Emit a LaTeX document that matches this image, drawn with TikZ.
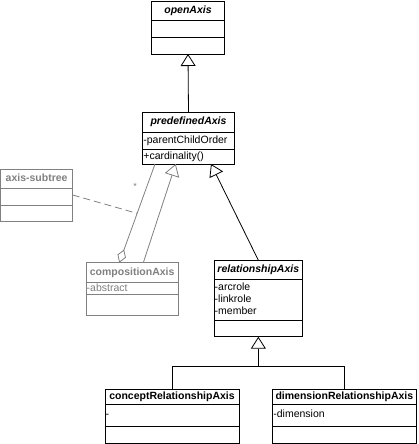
\documentclass[tikz,border=0pt]{standalone}
\usepackage{fontspec}
\setmainfont{Liberation Sans}
\usetikzlibrary{arrows.meta,calc}
\definecolor{umlgray}{RGB}{128,128,128}
\tikzset{
  box/.style={draw, line width=0.8pt, anchor=north west, inner sep=0pt, outer sep=0pt},
  sep/.style={line width=0.8pt},
  txt/.style={inner sep=0pt, font=\fontsize{10.5}{12}\selectfont, text height=7.6pt, text depth=2.2pt},
  title/.style={txt, font=\fontsize{10.5}{12}\selectfont\bfseries},
  atitle/.style={txt, font=\fontsize{10.5}{12}\selectfont\bfseries\itshape},
  attr/.style={txt, anchor=west},
  gen/.style={line width=0.8pt, -{Triangle[open, width=15pt, length=12pt, fill=white]}},
  agg/.style={line width=0.8pt, -{Diamond[open, width=9pt, length=14pt, fill=white]}},
  faint/.style={umlgray, draw=umlgray},
}
\begin{document}
\begin{tikzpicture}[x=1pt, y=-1pt]
\useasboundingbox (0,0) rectangle (419,444);
% openAxis
\node[box, minimum width=72.6pt, minimum height=53pt] (open) at (151.7,1) {};
\draw[sep] (open.west |- 0,20) -- (open.east |- 0,20);
\draw[sep] (open.west |- 0,37) -- (open.east |- 0,37);
\node[atitle] (openT) at (188,10.5) {openAxis};
% predefinedAxis
\node[box, minimum width=91.6pt, minimum height=52pt] (predef) at (142.7,112) {};
\draw[sep] (predef.west |- 0,132) -- (predef.east |- 0,132);
\draw[sep] (predef.west |- 0,149) -- (predef.east |- 0,149);
\node[atitle] (predefT) at (188.5,122) {predefinedAxis};
\node[attr] (predefA) at (143.2,140.5) {-parentChildOrder};
\node[attr] (predefO) at (143.2,156.5) {+cardinality()};
% axis-subtree
\node[box, faint, minimum width=72.2pt, minimum height=52pt] (sub) at (0.5,169) {};
\draw[sep, umlgray] (sub.west |- 0,188) -- (sub.east |- 0,188);
\draw[sep, umlgray] (sub.west |- 0,205) -- (sub.east |- 0,205);
\node[title, umlgray] (subT) at (36.6,178.5) {axis-subtree};
% compositionAxis
\node[box, faint, minimum width=92.3pt, minimum height=52.3pt] (comp) at (86,262.7) {};
\draw[sep, umlgray] (comp.west |- 0,282.7) -- (comp.east |- 0,282.7);
\draw[sep, umlgray] (comp.west |- 0,294) -- (comp.east |- 0,294);
\node[title, umlgray] (compT) at (132.2,272.7) {compositionAxis};
\node[attr, umlgray] (compA) at (86.5,288.4) {-abstract};
% relationshipAxis
\node[box, minimum width=88.7pt, minimum height=76.4pt] (rel) at (214,260.3) {};
\draw[sep] (rel.west |- 0,279.3) -- (rel.east |- 0,279.3);
\draw[sep] (rel.west |- 0,320.7) -- (rel.east |- 0,320.7);
\node[atitle] (relT) at (258.3,269.8) {relationshipAxis};
\node[attr] (relA1) at (214.5,287.3) {-arcrole};
\node[attr] (relA2) at (214.5,299.6) {-linkrole};
\node[attr] (relA3) at (214.5,311.9) {-member};
% conceptRelationshipAxis
\node[box, minimum width=134pt, minimum height=54pt] (concept) at (105,389.3) {};
\draw[sep] (concept.west |- 0,404) -- (concept.east |- 0,404);
\draw[sep] (concept.west |- 0,426) -- (concept.east |- 0,426);
\node[title] (conceptT) at (172,396.7) {conceptRelationshipAxis};
\node[attr] (conceptA) at (105.5,415) {-};
% dimensionRelationshipAxis
\node[box, minimum width=143.3pt, minimum height=54pt] (dim) at (272.7,389.3) {};
\draw[sep] (dim.west |- 0,404) -- (dim.east |- 0,404);
\draw[sep] (dim.west |- 0,426) -- (dim.east |- 0,426);
\node[title] (dimT) at (344.4,396.7) {dimensionRelationshipAxis};
\node[attr] (dimA) at (273.2,415) {-dimension};
% connectors
\draw[gen] (predef.north) -- (open.south);
\draw[gen] (rel.north) -- ([xshift=68.3pt]predef.south west);
\draw[gen, umlgray] ([xshift=57.3pt]comp.north west) -- ([xshift=33pt]predef.south west);
\draw[agg, umlgray] ([xshift=12.3pt]predef.south west) -- coordinate[pos=0.5] (aggmid) ([xshift=33.3pt]comp.north west);
\draw[umlgray, line width=0.8pt, dash pattern=on 7pt off 4pt] (sub.east) -- (aggmid);
\node[inner sep=0pt, umlgray, font=\fontsize{9}{10}\selectfont] (star) at (135,186) {*};
\coordinate (join) at (rel.south |- 0,366.7);
\draw[line width=0.8pt] (concept.north) |- (join);
\draw[line width=0.8pt] (dim.north) |- (join);
\draw[gen] (join) -- (rel.south);
\end{tikzpicture}
\end{document}
